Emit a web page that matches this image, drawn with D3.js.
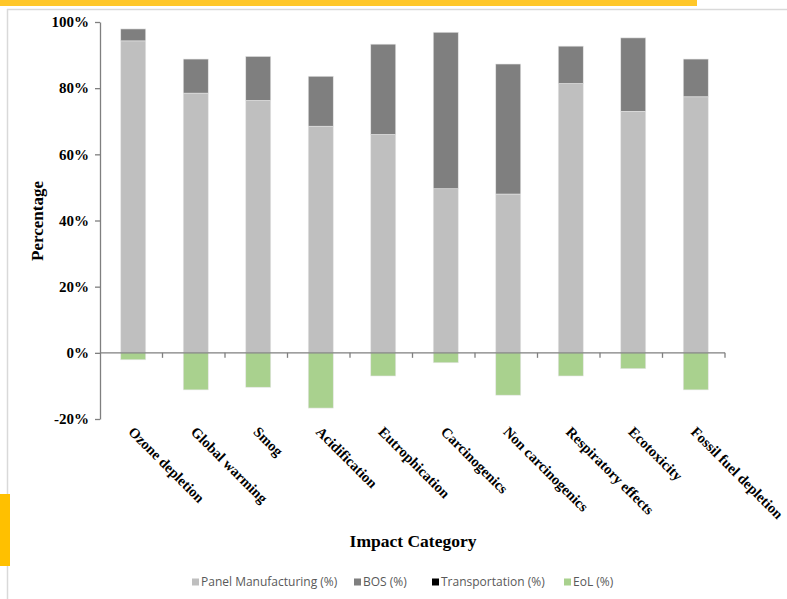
<!DOCTYPE html>
<html>
<head>
<meta charset="utf-8">
<script src="https://cdn.jsdelivr.net/npm/d3@7/dist/d3.min.js"></script>
<style>
  html, body { margin: 0; padding: 0; background: #fff; }
  svg { display: block; }
</style>
</head>
<body>
<svg id="chart" width="787" height="599"></svg>
<script>
const categories = ["Ozone depletion", "Global warming", "Smog", "Acidification", "Eutrophication",
  "Carcinogenics", "Non carcinogenics", "Respiratory effects", "Ecotoxicity", "Fossil fuel depletion"];
const panelManufacturing = [94.3, 78.5, 76.3, 68.5, 66.0, 49.6, 48.0, 81.4, 73.0, 77.4];
const bos = [3.6, 10.3, 13.3, 15.1, 27.3, 47.3, 39.3, 11.3, 22.2, 11.4];
const transportation = [0, 0, 0, 0, 0, 0, 0, 0, 0, 0];
const eol = [-2.1, -11.2, -10.4, -16.7, -7.0, -3.0, -12.8, -7.0, -4.8, -11.2];
const yTicks = [-20, 0, 20, 40, 60, 80, 100];
const seriesNames = ["Panel Manufacturing (%)", "BOS (%)", "Transportation (%)", "EoL (%)"];
const seriesColors = ["#bfbfbf", "#7f7f7f", "#000000", "#a9d18e"];

const svg = d3.select("#chart");

// decorative frame
svg.append("line").attr("x1", 7.5).attr("x2", 7.5).attr("y1", 9).attr("y2", 599).attr("stroke", "#d9d9d9").attr("stroke-width", 1.5);
svg.append("line").attr("x1", 7).attr("x2", 787).attr("y1", 9.5).attr("y2", 9.5).attr("stroke", "#d9d9d9").attr("stroke-width", 1.5);
svg.append("rect").attr("x", 0).attr("y", 0).attr("width", 697).attr("height", 6).attr("fill", "#ffc729");
svg.append("rect").attr("x", 0).attr("y", 494).attr("width", 10).attr("height", 72).attr("fill", "#ffc000");

const x = d3.scaleBand().domain(categories).range([100, 725]).paddingInner(0.6).paddingOuter(0.3);
const y = d3.scaleLinear().domain([-20, 100]).range([419, 22]);
const barShift = 2;

// stacked bars
const rows = categories.map((c, i) => ({ c, vals: [panelManufacturing[i], bos[i], transportation[i], eol[i]] }));
rows.forEach(r => {
  let pos = 0, neg = 0;
  r.vals.forEach((v, k) => {
    let y0, y1;
    if (v >= 0) { y0 = pos; y1 = pos + v; pos = y1; }
    else { y0 = neg + v; y1 = neg; neg = y0; }
    if (v === 0) return;
    svg.append("rect")
      .attr("x", x(r.c) + barShift)
      .attr("width", x.bandwidth())
      .attr("y", y(y1))
      .attr("height", y(y0) - y(y1))
      .attr("fill", seriesColors[k])
      .attr("stroke", "#e6e6e6")
      .attr("stroke-width", 0.6);
  });
});

// y axis
const yAxis = svg.append("g").attr("transform", "translate(100,0)")
  .call(d3.axisLeft(y).tickValues(yTicks).tickFormat(d => d + "%").tickSize(5).tickSizeOuter(0).tickPadding(6));
yAxis.select(".domain").attr("stroke", "#7f7f7f").attr("stroke-width", 1.3);
yAxis.selectAll(".tick line").attr("stroke", "#7f7f7f").attr("stroke-width", 1.3);
yAxis.selectAll(".tick text")
  .attr("font-family", "'Liberation Serif', 'Times New Roman', serif")
  .attr("font-weight", "bold").attr("font-size", 15).attr("fill", "#000");

// x axis at zero
const step = x.step();
const bounds = categories.map(c => x(c) - (step - x.bandwidth()) / 2);
bounds.push(bounds[bounds.length - 1] + step);
const xg = svg.append("g");
xg.append("line").attr("x1", 100).attr("x2", bounds[bounds.length - 1])
  .attr("y1", y(0)).attr("y2", y(0)).attr("stroke", "#7f7f7f").attr("stroke-width", 1.3);
xg.selectAll("line.tk").data(bounds.slice(1)).enter().append("line")
  .attr("class", "tk")
  .attr("x1", d => d).attr("x2", d => d)
  .attr("y1", y(0)).attr("y2", y(0) + 5)
  .attr("stroke", "#7f7f7f").attr("stroke-width", 1.3);

// category labels
svg.selectAll("text.cat").data(categories).enter().append("text")
  .attr("class", "cat")
  .attr("transform", d => `translate(${x(d) + x.bandwidth() / 2 + 4},${425}) rotate(45)`)
  .attr("dy", "0.75em")
  .attr("text-anchor", "start")
  .attr("font-family", "'Liberation Serif', 'Times New Roman', serif")
  .attr("font-weight", "bold").attr("font-size", 14.5).attr("fill", "#000")
  .text(d => d);

// axis titles
svg.append("text")
  .attr("transform", "translate(43,221) rotate(-90)")
  .attr("text-anchor", "middle")
  .attr("font-family", "'Liberation Serif', 'Times New Roman', serif")
  .attr("font-weight", "bold").attr("font-size", 17).attr("fill", "#000")
  .text("Percentage");
svg.append("text")
  .attr("x", 413).attr("y", 547)
  .attr("text-anchor", "middle")
  .attr("font-family", "'Liberation Serif', 'Times New Roman', serif")
  .attr("font-weight", "bold").attr("font-size", 17.5).attr("fill", "#000")
  .text("Impact Category");

// legend
const legendX = [192, 354, 432, 564];
const lg = svg.append("g");
seriesNames.forEach((n, i) => {
  lg.append("rect").attr("x", legendX[i]).attr("y", 578.5).attr("width", 7).attr("height", 7).attr("fill", seriesColors[i]);
  lg.append("text").attr("x", legendX[i] + 9).attr("y", 582).attr("dy", "0.35em")
    .attr("font-family", "'Open Sans', 'Liberation Sans', sans-serif")
    .attr("font-size", 12).attr("fill", "#595959").text(n);
});
</script>
</body>
</html>
